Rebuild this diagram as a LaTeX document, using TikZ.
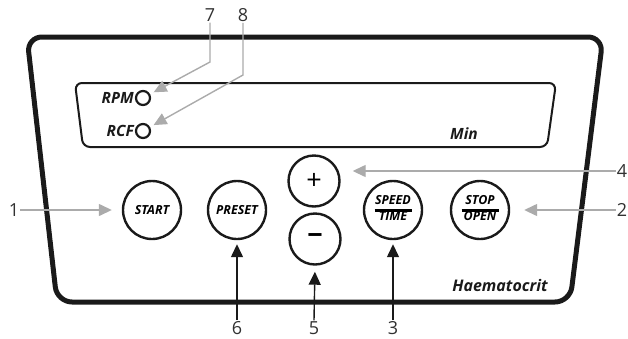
\documentclass[tikz,border=0pt]{standalone}
\usepackage{fontspec}
\setmainfont{Open Sans}
\usepackage{tikz}
\usetikzlibrary{positioning,calc,arrows.meta}

\definecolor{callgray}{HTML}{ABABAB}
\definecolor{inkdark}{HTML}{1A1A1A}
\newcommand{\splitface}[2]{\begin{tabular}{@{}c@{}}#1\\[-6pt]\rule{37pt}{2.8pt}\\[-4pt]#2\end{tabular}}

\begin{document}
\begin{tikzpicture}[x=1pt, y=-1pt,
    button/.style={circle, draw=inkdark, line width=2.4pt, minimum size=58pt, inner sep=0pt, align=center, font=\fontsize{12.5}{13}\selectfont\bfseries\itshape},
    pmbutton/.style={circle, draw=inkdark, line width=2.4pt, minimum size=51pt, inner sep=0pt, font=\fontsize{27}{27}\selectfont},
    led/.style={circle, draw=inkdark, line width=2.2pt, minimum size=14pt, inner sep=0pt},
    panel text/.style={font=\fontsize{15.5}{16}\selectfont\bfseries\itshape, text=inkdark, inner sep=0pt},
    callout/.style={font=\fontsize{18}{18}\selectfont, text=inkdark!90, inner sep=1pt},
    grayarr/.style={draw=callgray, line width=1.4pt, -{Triangle[length=13pt,width=12pt]}},
    blackarr/.style={draw=inkdark, line width=1.4pt, -{Triangle[length=13pt,width=12pt]}}]
    \useasboundingbox (0,0) rectangle (628,338);

    % housing and display
    \draw[line width=5pt, rounded corners=15pt, inkdark] (27,37) -- (603,37) -- (570,302) -- (57,302) -- cycle;
    \draw[line width=2pt, rounded corners=7pt, inkdark] (75,83) -- (556,83) -- (547,147) -- (83,147) -- cycle;

    % indicators
    \node[led] (rpmled) at (143,98) {};
    \node[led] (rcfled) at (143,131) {};
    \node[panel text, anchor=east] (rpm) at (134,98) {RPM};
    \node[panel text, anchor=east] (rcf) at (134,131) {RCF};
    \node[panel text] (minlbl) at (464,134) {Min};
    \node[panel text, font=\fontsize{16}{16}\selectfont\bfseries\itshape] (brand) at (500,285) {Haematocrit};

    % buttons
    \node[button] (start) at (152,210) {START};
    \node[button] (preset) at (237,210) {PRESET};
    \node[pmbutton] (plus) at (314,181) {+};
    \node[pmbutton, font=\fontsize{27}{27}\selectfont\bfseries] (minus) at (315,239) {−};
    \node[button] (speed) at (393,210) {\splitface{SPEED}{TIME}};
    \node[button] (stop) at (480,210) {\splitface{STOP}{OPEN}};

    % callout numbers
    \node[callout] (l1) at (14,210) {1};
    \node[callout] (l2) at (622,210) {2};
    \node[callout] (l3) at (393,328) {3};
    \node[callout] (l4) at (622,171) {4};
    \node[callout] (l5) at (314,328) {5};
    \node[callout] (l6) at (237,328) {6};
    \node[callout] (l7) at (210,15) {7};
    \node[callout] (l8) at (243,15) {8};
    \coordinate (b7) at (210,62);
    \coordinate (b8) at (243,75);

    % callout lines
    \draw[grayarr, shorten >=10pt] (l1.east) -- (start.west);
    \draw[grayarr, shorten >=14pt] (l2.west) -- (stop.east);
    \draw[grayarr, shorten >=12pt] (l4.west) -- (plus.east |- l4);
    \draw[grayarr, shorten >=4pt] (l7.south) -- (b7) -- (rpmled);
    \draw[grayarr, shorten >=4pt] (l8.south) -- (b8) -- (rcfled);
    \draw[blackarr, shorten >=4pt] (l6.north) -- (preset.south);
    \draw[blackarr, shorten >=6pt] (l5.north) -- (minus.south);
    \draw[blackarr, shorten >=4pt] (l3.north) -- (speed.south);
\end{tikzpicture}
\end{document}
